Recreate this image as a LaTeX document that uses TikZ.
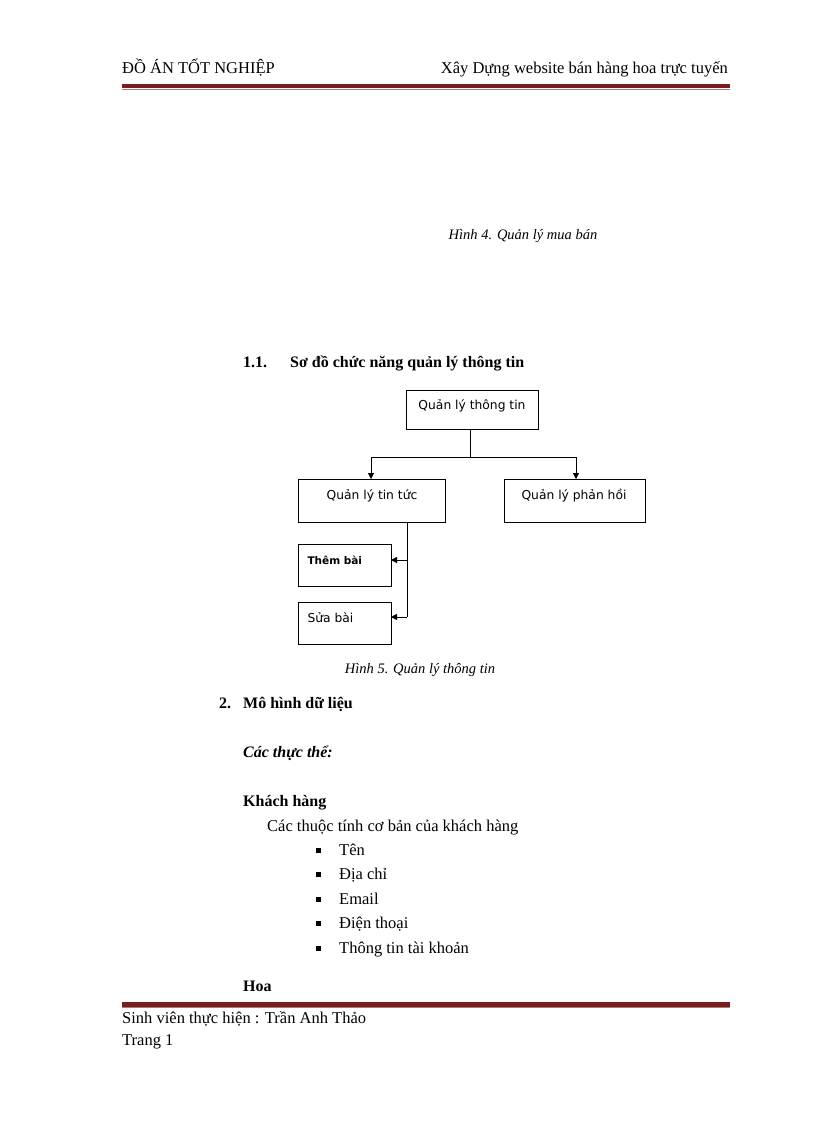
\documentclass[tikz,border=0pt]{standalone}
\usepackage{fontspec}
\setmainfont{Liberation Serif}
\newfontfamily\boxfont{DejaVu Sans}
\usetikzlibrary{arrows.meta}
\definecolor{rule}{RGB}{120,30,30}
\tikzset{
 boxtxt/.style={font=\boxfont\fontsize{12.3}{14}\selectfont},
 tx/.style={anchor=base west,inner sep=0pt,font=\fontsize{16.5}{18}\selectfont},
 hd/.style={anchor=base west,inner sep=0pt,font=\bfseries\fontsize{16}{18}\selectfont},
 capt/.style={anchor=base,inner sep=0pt,font=\itshape\fontsize{14.5}{16}\selectfont},
 arr/.style={-{Triangle[length=6pt,width=6pt]}}
}
\begin{document}
\begin{tikzpicture}[x=1pt,y=-1pt]
\useasboundingbox (0,0) rectangle (816,1123);
% header
\node[tx] (h1) at (122,74) {ĐỒ ÁN TỐT NGHIỆP};
\node[tx,anchor=base east] (h2) at (728,74) {Xây Dựng website bán hàng hoa trực tuyến};
\fill[rule] (122,84) rectangle (730,88.5);
\draw[rule!60,line width=0.8pt] (122,89.8) -- (730,89.8);
\node[capt] (c4) at (523,240) {Hình 4. Quản lý mua bán};
\node[hd] (n11) at (243,367) {1.1.};
\node[hd] (t11) at (290,367) {Sơ đồ chức năng quản lý thông tin};
% diagram
\draw[thick] (406,390) rectangle (538,429);
\node[boxtxt] (at) at (472,406) {Quản lý thông tin};
\draw[thick] (298,479) rectangle (445,522);
\node[boxtxt] (bt) at (372,496) {Quản lý tin tức};
\draw[thick] (504,479) rectangle (645,522);
\node[boxtxt] (ct) at (574,496) {Quản lý phản hồi};
\draw[thick] (298,544) rectangle (391,586);
\node[anchor=west,font=\boxfont\bfseries\fontsize{10.5}{12}\selectfont] (dt) at (304,560) {Thêm bài};
\draw[thick] (298,602) rectangle (391,644);
\node[anchor=west,boxtxt] (et) at (304,618) {Sửa bài};
\coordinate (j) at (470,457);
\draw (470,429) -- (j);
\draw[arr] (j) -| (371,479);
\draw[arr] (j) -| (576,479);
\draw (407,522) -- (407,617);
\draw[arr] (407,560) -- (391,560);
\draw[arr] (407,617) -- (391,617);
\node[capt] (c5) at (420,673) {Hình 5. Quản lý thông tin};
% text
\node[hd] (s2) at (219,708) {2.};
\node[hd] (s2t) at (243,708) {Mô hình dữ liệu};
\node[hd,font=\bfseries\itshape\fontsize{16}{18}\selectfont] (ctt) at (243,757) {Các thực thể:};
\node[hd] (kh) at (243,806) {Khách hàng};
\node[tx] (kt) at (267,831) {Các thuộc tính cơ bản của khách hàng};
\foreach \t [count=\i from 0] in {Tên,Địa chỉ,Email,Điện thoại,Thông tin tài khoản}{
  \fill (315.5,{847.5+24.5*\i}) rectangle (320.5,{852.5+24.5*\i});
  \node[tx] (b\i) at (339,{855+24.5*\i}) {\t};
}
\node[hd] (hoa) at (243,991) {Hoa};
% footer
\fill[rule] (122,1002) rectangle (730,1006.5);
\draw[rule!60,line width=0.8pt] (122,1007.8) -- (730,1007.8);
\node[tx] (f1) at (122,1023) {Sinh viên thực hiện : Trần Anh Thảo};
\node[tx] (f2) at (122,1045) {Trang 1};
\end{tikzpicture}
\end{document}
